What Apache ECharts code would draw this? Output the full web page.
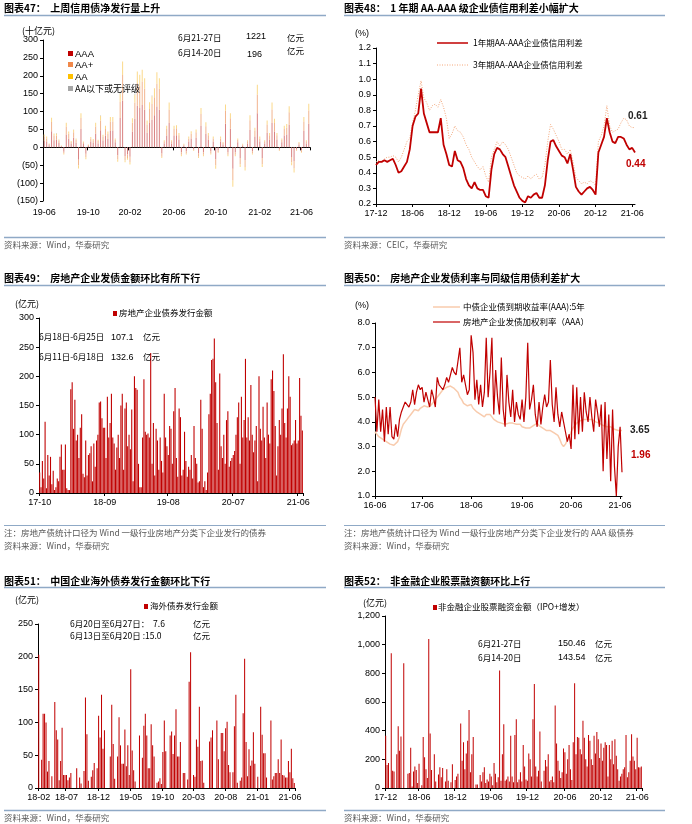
<!DOCTYPE html>
<html><head><meta charset="utf-8">
<script src="https://cdn.jsdelivr.net/npm/echarts@6/dist/echarts.min.js"></script>
<style>html,body{margin:0;padding:0;background:#fff}#c{width:692px;height:824px}</style>
</head><body><div id="c"></div>
<script>
// ---------- helpers for category dates ----------
function weekDates(endStr, n, stepDays) {
  const end = new Date(endStr + 'T00:00:00Z').getTime();
  const out = [];
  for (let i = n - 1; i >= 0; i--) out.push(new Date(end - i * stepDays * 86400000).toISOString().slice(0, 10));
  return out;
}

// ---------- Chart 47: net issuance of credit bonds (十亿元) ----------
const c47_AAA = [18,15,6,45,20,22,12,3,-12,36,24,10,27,13,-35,52,9,-18,4,16,12,38,11,48,19,33,24,46,47,14,-22,82,130,-24,-20,-26,44,80,116,110,118,105,41,68,77,90,114,105,-17,11,33,68,11,33,34,22,-14,5,-11,16,25,-6,27,-17,60,-14,38,22,-11,16,-33,-8,16,8,66,-14,52,-60,-14,14,-30,5,-36,11,49,-11,30,95,16,-30,11,41,22,68,44,22,-6,14,33,36,63,-27,-38,-6,8,-8,46,11,66];
const c47_AAp = [12,10,3,26,13,11,7,1,-5,22,14,5,15,8,-16,30,5,-10,3,9,8,20,7,27,11,18,13,26,25,7,-12,45,72,-12,-10,-15,25,45,64,62,66,59,23,39,44,50,64,59,-9,6,18,38,6,18,19,12,-7,3,-6,9,13,-3,15,-9,33,-7,21,12,-6,9,-18,-5,9,5,36,-7,29,-33,-7,7,-17,3,-19,6,27,-6,17,53,9,-17,6,23,12,38,24,12,-3,7,18,19,35,-15,-21,-3,5,-5,26,6,37];
const c47_AA = [6,5,2,12,6,6,3,1,-3,11,6,3,7,4,-8,13,2,-5,1,4,3,11,3,13,5,9,7,13,13,4,-6,23,38,-6,-5,-7,12,22,32,31,33,29,11,19,21,25,32,29,-4,3,9,19,3,9,9,6,-4,2,-3,5,7,-1,8,-4,17,-4,11,6,-3,5,-9,-2,5,2,18,-4,14,-17,-4,4,-8,2,-10,3,14,-3,8,27,5,-8,3,11,6,19,12,6,-1,4,9,10,17,-8,-11,-1,2,-2,13,3,19];
const c47_LOW = [0,0,0,0,0,1,0,0,0,0,0,0,1,0,0,0,0,0,0,0,0,0,0,2,0,0,0,0,0,0,0,3,0,0,0,0,0,2,0,0,0,0,0,0,3,0,0,0,0,0,0,0,0,0,0,0,0,0,0,0,0,0,0,0,0,0,0,0,0,0,0,0,0,0,0,0,0,0,0,0,0,0,0,0,0,0,0,0,0,0,0,0,0,0,0,0,0,0,0,0,0,0,0,0,0,0,0,0,0];
const c47_cats = weekDates('2021-06-27', c47_AAA.length, 7);
const c47_yTicks = [-150, 300, 50];

// ---------- Chart 48: AA-AAA credit spreads (%) ----------
const c48_1y = [0.45,0.47,0.47,0.48,0.47,0.48,0.49,0.45,0.40,0.41,0.44,0.47,0.55,0.70,0.76,0.78,0.94,0.78,0.72,0.66,0.66,0.66,0.66,0.75,0.58,0.52,0.45,0.44,0.54,0.48,0.47,0.43,0.36,0.32,0.30,0.34,0.30,0.29,0.29,0.25,0.24,0.42,0.52,0.56,0.55,0.52,0.50,0.44,0.38,0.32,0.28,0.24,0.22,0.21,0.25,0.24,0.26,0.27,0.24,0.24,0.32,0.48,0.60,0.61,0.57,0.54,0.51,0.50,0.46,0.52,0.42,0.31,0.28,0.26,0.28,0.30,0.31,0.29,0.26,0.53,0.58,0.63,0.75,0.66,0.60,0.59,0.63,0.63,0.62,0.58,0.55,0.56,0.53];
const c48_3y = [0.47,0.48,0.47,0.49,0.50,0.50,0.51,0.50,0.47,0.50,0.55,0.60,0.62,0.72,0.80,0.90,0.99,0.88,0.85,0.80,0.83,0.84,0.82,0.87,0.82,0.75,0.62,0.65,0.70,0.67,0.66,0.63,0.58,0.55,0.50,0.47,0.44,0.42,0.44,0.38,0.34,0.50,0.55,0.60,0.57,0.60,0.58,0.55,0.50,0.45,0.40,0.38,0.37,0.36,0.38,0.36,0.38,0.39,0.36,0.37,0.45,0.60,0.71,0.68,0.64,0.60,0.55,0.55,0.52,0.55,0.47,0.37,0.35,0.33,0.34,0.33,0.35,0.34,0.32,0.60,0.64,0.70,0.83,0.70,0.66,0.67,0.68,0.72,0.75,0.74,0.70,0.69,0.69];
const c48_cats = weekDates('2021-06-18', c48_1y.length, 14);

// ---------- Chart 49: real-estate bond issuance (亿元) ----------
const c49_vals = [35,10,55,25,122,8,65,30,62,15,38,
 5,10,25,20,62,83,40,40,83,8,
 5,5,178,190,
 110,160,90,100,60,112,135,33,27,90,
 30,65,68,80,20,85,45,90,100,155,157,128,112,
 112,60,165,95,120,170,95,85,40,78,100,60,
 150,170,40,145,155,80,100,75,143,20,200,180,177,
 50,10,10,95,195,105,100,102,95,240,50,120,30,110,
 90,40,95,55,35,170,95,80,65,115,110,50,
 140,180,60,28,145,130,30,40,105,55,28,45,
 40,65,25,115,60,50,18,20,160,110,10,20,
 5,35,135,170,228,230,265,190,120,40,205,80,
 60,100,50,125,140,45,55,60,65,72,100,130,
 155,50,165,95,125,230,95,130,90,185,100,70,
 90,115,20,200,110,90,148,95,60,155,100,85,
 195,210,175,115,30,80,125,100,145,238,120,95,
 145,200,165,82,85,90,125,85,90,197,132.6,107.1];
const c49_cats = weekDates('2021-06-25', c49_vals.length, 7);

// ---------- Chart 50: real-estate bond rate vs AAA yield (%) ----------
const c50_aaa5y = [3.6,3.5,3.4,3.35,3.3,3.25,3.2,3.15,3.1,3.1,
 3.05,3.1,3.2,3.4,3.7,3.9,4.0,4.1,4.2,4.3,
 4.4,4.5,4.5,4.45,4.55,4.6,4.65,4.6,4.6,4.65,
 4.7,4.8,4.9,5.0,5.1,5.2,5.3,5.35,5.4,5.4,
 5.45,5.4,5.35,5.3,5.2,5.0,4.9,4.75,4.7,4.65,
 4.6,4.7,4.55,4.5,4.4,4.45,4.3,4.35,4.2,4.3,
 4.35,4.3,4.2,4.1,4.05,4.0,4.0,3.95,4.0,3.9,
 3.9,3.95,4.0,3.95,3.9,3.9,3.85,3.9,3.8,3.75,
 3.75,3.7,3.75,3.8,3.85,3.9,3.95,3.85,3.8,3.75,
 3.7,3.65,3.7,3.65,3.6,3.55,3.5,3.45,3.3,3.1,
 3.0,3.1,3.25,3.4,3.6,3.75,3.85,3.95,4.0,4.05,
 4.1,4.1,4.15,4.1,4.05,4.1,4.05,4.0,4.0,3.95,
 3.9,3.85,3.8,3.8,3.75,3.8,3.75,3.7,3.7,3.65,3.65,3.65];
const c50_re = [5.0,3.6,4.9,3.6,4.5,3.2,4.6,3.5,4.6,3.4,
 3.3,3.9,3.4,4.1,4.4,4.6,4.8,4.7,4.6,4.8,
 5.3,4.7,5.2,5.5,5.3,5.4,4.8,5.2,4.9,4.6,
 5.3,5.0,4.6,5.8,5.5,5.4,5.3,5.5,5.8,5.6,
 5.6,6.2,6.0,5.9,5.9,7.0,5.6,5.9,5.5,5.1,
 5.3,7.5,6.8,4.9,5.7,4.7,5.5,4.6,5.2,7.4,
 5.0,6.0,7.4,4.3,6.1,5.0,4.3,6.6,4.5,3.8,
 5.9,4.8,4.2,5.3,4.0,4.8,4.3,4.1,4.9,4.0,
 5.0,7.2,4.5,4.9,5.5,4.3,3.8,4.8,3.9,4.6,
 5.1,4.6,4.8,6.5,4.7,4.0,5.4,4.3,3.8,4.4,
 4.0,3.6,3.2,3.5,2.9,5.5,3.3,5.4,3.5,5.0,
 3.6,5.2,4.4,4.0,5.0,4.2,3.6,4.9,4.4,3.8,
 4.7,2.0,4.8,2.5,4.3,1.6,4.5,2.2,1.0,3.0,3.8,1.96];
const c50_cats = weekDates('2021-06-25', c50_re.length, 14);

// ---------- Chart 51: offshore bond issuance (亿元) ----------
const c51_vals = [203,0,43,113,113,100,25,41,0,18,0,131,88,74,12,41,92,20,20,20,12,16,23,0,0,0,30,0,16,7,0,26,138,82,11,0,17,27,38,0,30,110,77,142,60,88,0,0,0,48,127,67,14,0,48,108,65,37,37,89,33,65,20,181,57,27,10,0,0,80,0,46,95,113,80,30,30,97,65,48,0,8,10,15,6,55,103,56,0,0,80,86,52,80,120,48,48,70,0,23,23,0,13,162,207,0,20,17,74,63,124,41,42,8,0,0,0,71,77,88,0,0,103,44,0,84,84,56,91,101,35,24,0,24,94,142,8,0,11,16,114,197,70,18,59,34,42,85,37,0,17,0,124,81,53,53,16,0,0,103,13,18,23,23,44,23,74,20,19,16,16,41,24,60,15,7.6];
const c51_cats = weekDates('2021-06-27', c51_vals.length, 7);

// ---------- Chart 52: equity financing of non-financial firms (亿元) ----------
const c52_vals = [365,160,175,0,940,120,115,0,235,430,260,360,0,870,0,0,100,105,280,10,115,150,125,35,170,0,20,355,215,130,70,1040,380,125,0,235,45,0,95,145,75,140,0,45,130,50,0,40,165,0,55,80,100,0,450,190,320,130,240,330,545,110,235,355,0,25,25,0,90,45,110,145,35,60,45,100,80,20,175,100,40,75,820,50,235,445,50,60,80,45,365,80,40,370,480,40,60,110,45,300,150,60,50,240,200,80,480,725,150,80,120,395,45,0,120,195,150,235,45,55,80,40,575,310,190,120,70,110,275,250,100,200,300,130,55,320,730,235,355,350,270,235,470,350,200,150,370,330,200,160,365,240,390,340,210,310,190,280,320,300,80,300,200,330,165,340,225,130,50,80,100,130,145,370,75,110,190,375,220,190,130,350,145,143.54,150.46];
const c52_cats = weekDates('2021-06-27', c52_vals.length, 7);

// ---------- styling ----------
const FONT = "'Liberation Sans', 'Noto Sans CJK SC', sans-serif";
const CJK = "'Noto Sans CJK SC', 'Liberation Sans', sans-serif";
const RED = '#C00000';
const RULE = '#8FA9C6';

function monthFn(cats, every) {
  const y0 = +cats[0].slice(0, 4), m0 = +cats[0].slice(5, 7);
  return function (idx) {
    const c = cats[idx];
    if (!c) return false;
    if (idx > 0 && cats[idx - 1].slice(0, 7) === c.slice(0, 7)) return false;
    const mi = (+c.slice(0, 4)) * 12 + (+c.slice(5, 7)) - (y0 * 12 + m0);
    return mi % every === 0;
  };
}
function xCat(grid, cats, every, gap, o) {
  o = o || {};
  const fn = monthFn(cats, every);
  return {
    type: 'category', gridIndex: grid, data: cats, boundaryGap: gap, position: 'bottom',
    axisLine: { show: o.line !== false, onZero: o.onZero || false, lineStyle: { color: '#000', width: 1 } },
    axisTick: { show: o.tick !== false, length: 3, interval: fn, lineStyle: { color: '#000' } },
    axisLabel: { show: o.label !== false, interval: fn, fontSize: 9, color: '#000', fontFamily: FONT, margin: o.margin || 5,
      formatter: v => v.slice(2, 7) },
    splitLine: { show: false }
  };
}
function yVal(grid, min, max, interval, fmt) {
  return {
    type: 'value', gridIndex: grid, min, max, interval,
    axisLine: { show: true, lineStyle: { color: '#000', width: 1 } },
    axisTick: { show: true, length: 3, lineStyle: { color: '#000' } },
    splitLine: { show: false },
    axisLabel: { fontSize: 9, color: '#000', fontFamily: FONT, margin: 5, formatter: fmt }
  };
}
function T(x, y, text, o) {
  o = o || {};
  return { type: 'text', x, y, silent: true, z: 100,
    style: { text, fill: o.fill || '#000', font: (o.bold ? 'bold ' : '') + (o.size || 9) + 'px ' + (o.family || CJK),
      textAlign: o.align || 'left', align: o.align || 'left', textVerticalAlign: 'middle', verticalAlign: 'middle' } };
}
function L(x1, y1, x2, y2, stroke, w, dash) {
  return { type: 'line', silent: true, shape: { x1, y1, x2, y2 }, style: { stroke, lineWidth: w || 1, lineDash: dash || null } };
}
function R(x, y, w, h, fill) { return { type: 'rect', silent: true, shape: { x, y, width: w, height: h }, style: { fill } }; }

const grey = '#595959';
const graphics = [
  // titles
  T(4, 8, '图表47：  上周信用债净发行量上升', { bold: true, size: 10 }),
  T(344, 8, '图表48：  1 年期 AA-AAA 级企业债信用利差小幅扩大', { bold: true, size: 10 }),
  T(4, 278, '图表49：  房地产企业发债金额环比有所下行', { bold: true, size: 10 }),
  T(344, 278, '图表50：  房地产企业发债利率与同级信用债利差扩大', { bold: true, size: 10 }),
  T(4, 581, '图表51：  中国企业海外债券发行金额环比下行', { bold: true, size: 10 }),
  T(344, 581, '图表52：  非金融企业股票融资额环比上行', { bold: true, size: 10 }),
  L(4, 15.5, 326, 15.5, RULE, 1.5), L(344, 15.5, 665, 15.5, RULE, 1.5),
  L(4, 285.5, 326, 285.5, RULE, 1.5), L(344, 285.5, 665, 285.5, RULE, 1.5),
  L(4, 587.5, 326, 587.5, RULE, 1.5), L(344, 587.5, 665, 587.5, RULE, 1.5),
  L(4, 237.5, 326, 237.5, RULE, 1.5), L(344, 237.5, 665, 237.5, RULE, 1.5),
  L(4, 525.5, 326, 525.5, RULE, 1), L(344, 525.5, 665, 525.5, RULE, 1),
  L(4, 810.5, 326, 810.5, RULE, 1.5), L(344, 810.5, 665, 810.5, RULE, 1.5),
  // sources
  T(4, 245, '资料来源：Wind，华泰研究', { fill: grey, size: 8.5 }),
  T(344, 245, '资料来源：CEIC，华泰研究', { fill: grey, size: 8.5 }),
  T(4, 533, '注：房地产债统计口径为 Wind 一级行业房地产分类下企业发行的债券', { fill: grey, size: 8.5 }),
  T(4, 546, '资料来源：Wind，华泰研究', { fill: grey, size: 8.5 }),
  T(344, 533, '注：房地产债统计口径为 Wind 一级行业房地产分类下企业发行的 AAA 级债券', { fill: grey, size: 8.5 }),
  T(344, 546, '资料来源：Wind，华泰研究', { fill: grey, size: 8.5 }),
  T(4, 818, '资料来源：Wind，华泰研究', { fill: grey, size: 8.5 }),
  T(344, 818, '资料来源：Wind，华泰研究', { fill: grey, size: 8.5 }),
  // chart 47 texts
  T(22, 31, '(十亿元)', { size: 9 }),
  R(68, 51, 5, 5, RED), T(75, 54, 'AAA', { family: FONT, size: 9.5 }),
  R(68, 62, 5, 5, '#F0884A'), T(75, 65, 'AA+', { family: FONT, size: 9.5 }),
  R(68, 74, 5, 5, '#FFC000'), T(75, 77, 'AA', { family: FONT, size: 9.5 }),
  R(68, 86, 5, 5, '#A6A6A6'), T(75, 89, 'AA以下或无评级', { size: 9 }),
  T(178, 38, '6月21-27日', { size: 8.5 }), T(246, 37, '1221', { family: FONT, size: 9 }), T(287, 38, '亿元', { size: 8.5 }),
  T(178, 53, '6月14-20日', { size: 8.5 }), T(247, 55, '196', { family: FONT, size: 9 }), T(287, 51, '亿元', { size: 8.5 }),
  // chart 48 texts
  T(355, 34, '(%)', { family: FONT, size: 9 }),
  L(437, 43, 468, 43, RED, 1.5), T(473, 43, '1年期AA-AAA企业债信用利差', { size: 8.5 }),
  L(437, 65, 468, 65, '#F4A77A', 1, [1, 1.5]), T(473, 65, '3年期AA-AAA企业债信用利差', { size: 8.5 }),
  T(628, 116, '0.61', { family: FONT, bold: true, size: 10, fill: '#222' }),
  T(626, 164, '0.44', { family: FONT, bold: true, size: 10, fill: RED }),
  // chart 49 texts
  T(15, 304, '(亿元)', { size: 9 }),
  R(113, 311, 4, 5, RED), T(119, 313, '房地产企业债券发行金额', { size: 8.5 }),
  T(39, 337, '6月18日-6月25日', { size: 8.5 }), T(111, 338, '107.1', { family: FONT, size: 9 }), T(143, 337, '亿元', { size: 8.5 }),
  T(39, 357, '6月11日-6月18日', { size: 8.5 }), T(111, 358, '132.6', { family: FONT, size: 9 }), T(143, 357, '亿元', { size: 8.5 }),
  // chart 50 texts
  T(355, 306, '(%)', { family: FONT, size: 9 }),
  L(433, 307, 460, 307, '#F8CBAD', 1.5), T(463, 307, '中债企业债到期收益率(AAA):5年', { size: 8.5 }),
  L(433, 322, 460, 322, RED, 1.2), T(463, 322, '房地产企业发债加权利率（AAA）', { size: 8.5 }),
  T(630, 430, '3.65', { family: FONT, bold: true, size: 10, fill: '#222' }),
  T(631, 455, '1.96', { family: FONT, bold: true, size: 10, fill: RED }),
  // chart 51 texts
  T(15, 600, '(亿元)', { size: 9 }),
  R(144, 604, 4, 5, RED), T(150, 606, '海外债券发行金额', { size: 8.5 }),
  T(70, 624, '6月20日至6月27日：  7.6', { size: 8.5 }), T(193, 624, '亿元', { size: 8.5 }),
  T(70, 636, '6月13日至6月20日 :15.0', { size: 8.5 }), T(193, 636, '亿元', { size: 8.5 }),
  // chart 52 texts
  T(363, 603, '(亿元)', { size: 9 }),
  R(433, 605, 4, 5, RED), T(438, 607, '非金融企业股票融资金额（IPO+增发）', { size: 8.5 }),
  T(478, 644, '6月21-27日', { size: 8.5 }), T(558, 644, '150.46', { family: FONT, size: 9 }), T(595, 644, '亿元', { size: 8.5 }),
  T(478, 658, '6月14-20日', { size: 8.5 }), T(558, 658, '143.54', { family: FONT, size: 9 }), T(595, 658, '亿元', { size: 8.5 })
];

const paren = v => v < 0 ? '(' + (-v) + ')' : String(v);
const fix1 = v => v.toFixed(1);
const thou = v => v.toLocaleString('en-US');

const option = {
  animation: false,
  backgroundColor: '#fff',
  textStyle: { fontFamily: FONT },
  grid: [
    { left: 43, top: 40, width: 267, height: 161 },
    { left: 376, top: 48, width: 259, height: 156 },
    { left: 39, top: 318, width: 264, height: 175 },
    { left: 375, top: 323, width: 247, height: 173 },
    { left: 38, top: 624, width: 257, height: 164 },
    { left: 385, top: 616, width: 257, height: 172 }
  ],
  xAxis: [
    xCat(0, c47_cats, 4, true, { line: false, tick: false, onZero: false, margin: 7 }),
    xCat(0, c47_cats, 4, true, { label: false, onZero: true }),
    xCat(1, c48_cats, 6, false, {}),
    xCat(2, c49_cats, 11, true, {}),
    xCat(3, c50_cats, 12, false, {}),
    xCat(4, c51_cats, 5, true, {}),
    xCat(5, c52_cats, 6, true, {})
  ],
  yAxis: [
    yVal(0, c47_yTicks[0], c47_yTicks[1], c47_yTicks[2], paren),
    yVal(1, 0.2, 1.2, 0.1, fix1),
    yVal(2, 0, 300, 50),
    yVal(3, 1, 8, 1, fix1),
    yVal(4, 0, 250, 50),
    yVal(5, 0, 1200, 200, thou)
  ],
  graphic: graphics,
  series: [
    { name: 'AAA', type: 'bar', xAxisIndex: 1, yAxisIndex: 0, stack: 'n', data: c47_AAA, barWidth: 1, itemStyle: { color: '#D98080' } },
    { name: 'AA+', type: 'bar', xAxisIndex: 1, yAxisIndex: 0, stack: 'n', data: c47_AAp, barWidth: 1, itemStyle: { color: '#F2B48E' } },
    { name: 'AA', type: 'bar', xAxisIndex: 1, yAxisIndex: 0, stack: 'n', data: c47_AA, barWidth: 1, itemStyle: { color: '#FBD98A' } },
    { name: 'AA以下或无评级', type: 'bar', xAxisIndex: 1, yAxisIndex: 0, stack: 'n', data: c47_LOW, barWidth: 1, itemStyle: { color: '#C8C8C8' } },
    { name: '3年期AA-AAA企业债信用利差', type: 'line', xAxisIndex: 2, yAxisIndex: 1, data: c48_3y, symbol: 'none',
      lineStyle: { color: '#F4A77A', width: 1, type: [1, 1.5] } },
    { name: '1年期AA-AAA企业债信用利差', type: 'line', xAxisIndex: 2, yAxisIndex: 1, data: c48_1y, symbol: 'none',
      lineStyle: { color: RED, width: 1.8 } },
    { name: '房地产企业债券发行金额', type: 'bar', xAxisIndex: 3, yAxisIndex: 2, data: c49_vals, barWidth: '80%', itemStyle: { color: RED } },
    { name: '中债企业债到期收益率(AAA):5年', type: 'line', xAxisIndex: 4, yAxisIndex: 3, data: c50_aaa5y, symbol: 'none',
      lineStyle: { color: '#F8CBAD', width: 1.5 } },
    { name: '房地产企业发债加权利率（AAA）', type: 'line', xAxisIndex: 4, yAxisIndex: 3, data: c50_re, symbol: 'none',
      lineStyle: { color: RED, width: 1.2 } },
    { name: '海外债券发行金额', type: 'bar', xAxisIndex: 5, yAxisIndex: 4, data: c51_vals, barWidth: '70%', itemStyle: { color: RED } },
    { name: '非金融企业股票融资金额（IPO+增发）', type: 'bar', xAxisIndex: 6, yAxisIndex: 5, data: c52_vals, barWidth: '70%', itemStyle: { color: RED } }
  ]
};
const chart = echarts.init(document.getElementById('c'), null, { renderer: 'canvas' });
chart.setOption(option);
</script></body></html>
